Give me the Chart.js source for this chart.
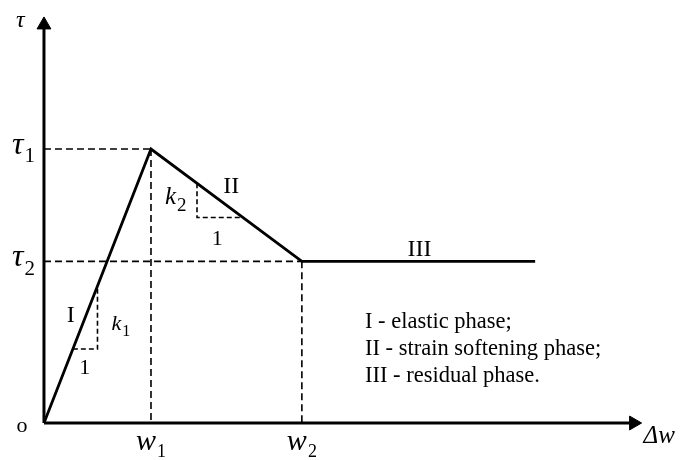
<!DOCTYPE html>
<html>
<head>
<meta charset="utf-8">
<script src="https://cdn.jsdelivr.net/npm/chart.js@4"></script>
<style>
	body { margin: 0; background: #fff; }
	#box { width: 681px; height: 460px; }
</style>
</head>
<body>
<div id="box"><canvas id="myChart"></canvas></div>
<script>
// 三線形モデルの頂点（Δw, τ）
var w_vals = [0, 1.0, 2.41, 4.59];
var tau_vals = [0, 1.0, 0.59, 0.59];

// 軸ラベル
var w_ticks = ['w', 'w'];
var w_subs = ['1', '2'];
var tau_ticks = ['τ', 'τ'];
var tau_subs = ['1', '2'];

// 勾配の三角形
var k1_tri_x = [0.27, 0.5, 0.5];
var k1_tri_y = [0.27, 0.27, 0.5];
var k2_tri_x = [1.43, 1.43, 1.85];
var k2_tri_y = [0.875, 0.75, 0.75];

// 軸の長さ（矢印の位置）
var x_axis_end = 5.51;
var y_axis_end = 1.453;

// 凡例テキスト
var phase_names = ['I', 'II', 'III'];
var phase_notes = ['I - elastic phase;', 'II - strain softening phase;', 'III - residual phase.'];

var SERIF = '"Liberation Serif", "DejaVu Serif", serif';

function pts(xs, ys) {
	var out = [];
	for (var i = 0; i < xs.length; i++) out.push({x: xs[i], y: ys[i]});
	return out;
}

function line_ds(data, width, dash) {
	return {
		data: data,
		showLine: true,
		borderColor: '#000',
		borderWidth: width,
		borderDash: dash || [],
		pointRadius: 0,
		fill: false,
		tension: 0
	};
}

var datasets = [];
// 軸
datasets.push(line_ds([{x: 0, y: 0}, {x: 0, y: y_axis_end}], 3));
datasets.push(line_ds([{x: 0, y: 0}, {x: x_axis_end, y: 0}], 3));
// 矢印
datasets.push({
	data: [{x: 0, y: y_axis_end}, {x: x_axis_end, y: 0}],
	showLine: false,
	pointStyle: 'triangle',
	pointRadius: 8,
	pointRotation: [0, 90],
	pointBackgroundColor: '#000',
	pointBorderColor: '#000',
	pointBorderWidth: 1
});
// 破線（τ1, τ2, w1, w2）
var dash = [7, 4];
for (var i = 1; i <= 2; i++) {
	datasets.push(line_ds([{x: 0, y: tau_vals[i]}, {x: w_vals[i], y: tau_vals[i]}], 1.6, dash));
	datasets.push(line_ds([{x: w_vals[i], y: tau_vals[i]}, {x: w_vals[i], y: 0}], 1.6, dash));
}
datasets.push(line_ds(pts(k1_tri_x, k1_tri_y), 1.6, [5, 3]));
datasets.push(line_ds(pts(k2_tri_x, k2_tri_y), 1.6, [5, 3]));
// 本線
datasets.push(line_ds(pts(w_vals, tau_vals), 2.8));

/* 文字の描画（主文字＋添字） */
function draw_label(ctx, x, y, main, sub, size, sub_size, italic, align) {
	var mf = (italic ? 'italic ' : '') + size + 'px ' + SERIF;
	var sf = sub_size + 'px ' + SERIF;
	ctx.font = mf;
	var mw = ctx.measureText(main).width;
	var sw = 0;
	if (sub) { ctx.font = sf; sw = ctx.measureText(sub).width; }
	var left = x;
	if (align == 'center') left = x - (mw + sw) / 2;
	ctx.textAlign = 'left';
	ctx.textBaseline = 'alphabetic';
	ctx.fillStyle = '#000';
	ctx.font = mf;
	ctx.fillText(main, left, y);
	if (sub) {
		ctx.font = sf;
		ctx.fillText(sub, left + mw + 1, y + sub_size * 0.4);
	}
}

var text_plugin = {
	id: 'texts',
	afterDraw: function(chart) {
		var ctx = chart.ctx;
		var xs = chart.scales.x, ys = chart.scales.y;
		function px(v) { return xs.getPixelForValue(v); }
		function py(v) { return ys.getPixelForValue(v); }
		ctx.save();

		// 軸タイトル
		draw_label(ctx, px(0) - 28, py(y_axis_end) + 2, 'τ', '', 24, 0, true, 'left');
		draw_label(ctx, px(x_axis_end) + 10, py(0) + 20, 'Δw', '', 25, 0, true, 'left');
		draw_label(ctx, px(0) - 22, py(0) + 9, 'o', '', 22, 0, false, 'center');

		// τ1, τ2
		for (var i = 0; i < 2; i++) {
			draw_label(ctx, px(0) - 32, py(tau_vals[i + 1]) + 5, tau_ticks[i], tau_subs[i], 32, 21, true, 'left');
		}
		// w1, w2
		for (var i = 0; i < 2; i++) {
			draw_label(ctx, px(w_vals[i + 1]) - 15, py(0) + 27, w_ticks[i], w_subs[i], 30, 18, true, 'left');
		}

		// 勾配
		draw_label(ctx, px(0.63), py(0.34), 'k', '1', 22, 16, true, 'left');
		draw_label(ctx, px(0.38), py(0.18), '1', '', 22, 0, false, 'center');
		draw_label(ctx, px(1.13), py(0.80), 'k', '2', 25, 19, true, 'left');
		draw_label(ctx, px(1.62), py(0.65), '1', '', 22, 0, false, 'center');

		// 区間名
		draw_label(ctx, px(0.25), py(0.37), phase_names[0], '', 24, 0, false, 'center');
		draw_label(ctx, px(1.75), py(0.84), phase_names[1], '', 24, 0, false, 'center');
		draw_label(ctx, px(3.51), py(0.61), phase_names[2], '', 24, 0, false, 'center');

		// 説明文
		var note_y = [0.347, 0.248, 0.150];
		for (var i = 0; i < phase_notes.length; i++) {
			draw_label(ctx, px(3.0), py(note_y[i]), phase_notes[i], '', 22.5, 0, false, 'left');
		}
		ctx.restore();
	}
};

var ctx = document.getElementById('myChart').getContext('2d');
var myChart = new Chart(ctx, {
	type: 'scatter',
	data: { datasets: datasets },
	options: {
		responsive: true,
		maintainAspectRatio: false,
		animation: false,
		layout: { padding: 0, autoPadding: false },
		plugins: {
			legend: { display: false },
			tooltip: { enabled: false }
		},
		scales: {
			x: { type: 'linear', display: false, min: -0.411, max: 5.953 },
			y: { type: 'linear', display: false, min: -0.135, max: 1.544 }
		}
	},
	plugins: [text_plugin]
});
</script>
</body>
</html>
